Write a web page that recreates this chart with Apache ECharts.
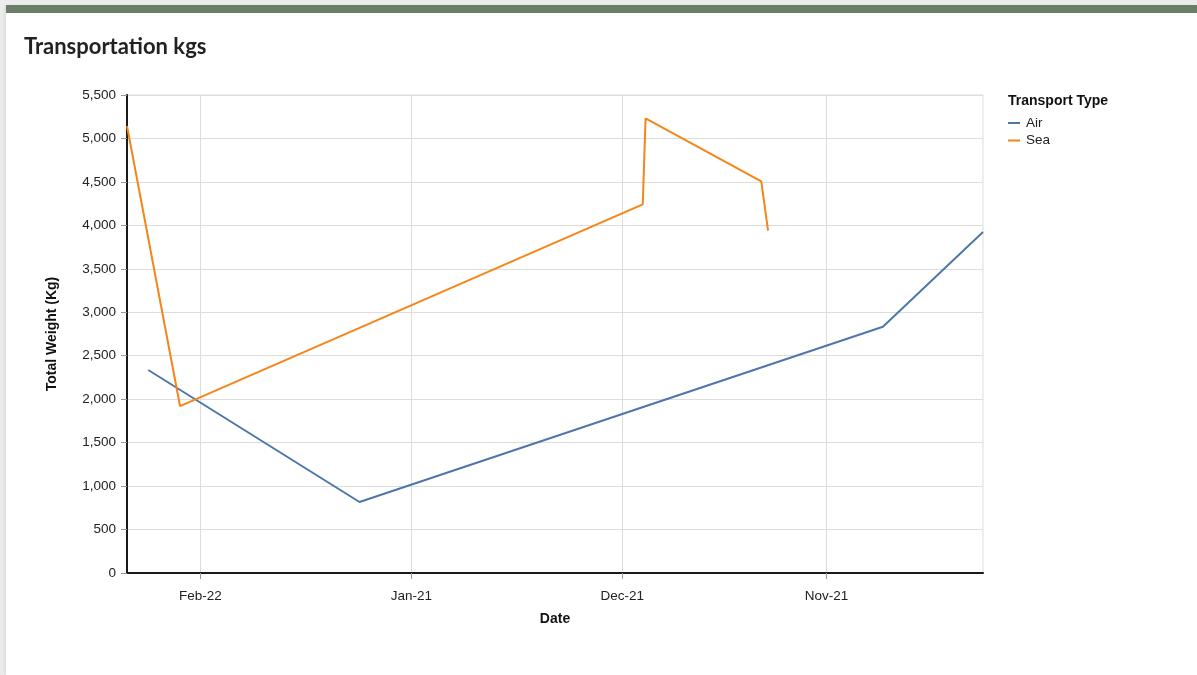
<!DOCTYPE html>
<html>
<head>
<meta charset="utf-8">
<title>Transportation kgs</title>
<script src="https://cdn.jsdelivr.net/npm/echarts@6/dist/echarts.min.js"></script>
<style>
  html, body { margin: 0; padding: 0; }
  body { width: 1197px; height: 675px; background: #ececec; overflow: hidden; position: relative; }
  .card {
    position: absolute; left: 6px; top: 5px; right: 0; bottom: 0;
    background: #fff; border-top: 8px solid #6a7e68;
    box-shadow: -2px 0 3px rgba(0,0,0,0.06);
  }
  #chart { position: absolute; left: 0; top: 0; width: 1197px; height: 675px; }
</style>
</head>
<body>
<div class="card"></div>
<div id="chart"></div>
<script>
// Axis ticks: first day of each month, with their printed labels
const tickDates = ['2021-11-01', '2021-12-01', '2022-01-01', '2022-02-01'];
const tickLabels = ['Nov-21', 'Dec-21', 'Jan-21', 'Feb-22'];

// Air shipments
const airDates = ['2022-02-08 16:00', '2022-01-08 15:00', '2021-10-23 17:00', '2021-10-09 00:00'];
const airKg = [2336, 817, 2834, 3924];

// Sea shipments
const seaDates = ['2022-02-11 19:00', '2022-02-04 00:00', '2021-11-28 00:00', '2021-11-27 14:00', '2021-11-10 14:00', '2021-11-09 14:00'];
const seaKg = [5143, 1921, 4242, 5232, 4507, 3939];

const AIR_COLOR = '#4c78a8';
const SEA_COLOR = '#f58518';
const FONT = '"Liberation Sans", Arial, Helvetica, sans-serif';

// dates become millisecond timestamps on a linear (newest-first) axis
const toMs = d => echarts.time.parse(d).getTime();
const tickValues = tickDates.map(toMs);

function pairs(dates, values) {
  return dates.map((d, i) => [toMs(d), values[i]]);
}

const chart = echarts.init(document.getElementById('chart'), null, { renderer: 'canvas' });

chart.setOption({
  animation: false,
  textStyle: { fontFamily: FONT },
  title: [
    {
      text: 'Transportation kgs',
      left: 24, top: 36, padding: 0,
      textStyle: { fontFamily: 'Lato, "Open Sans", sans-serif', fontWeight: 'bold', fontSize: 22, color: '#222' }
    },
    {
      text: 'Transport Type',
      left: 1008, top: 94, padding: 0,
      textStyle: { fontFamily: FONT, fontWeight: 'bold', fontSize: 14, color: '#111' }
    }
  ],
  legend: {
    orient: 'vertical',
    left: 1008, top: 116,
    icon: 'rect',
    itemWidth: 12, itemHeight: 2,
    itemGap: 3.5,
    padding: 0,
    textStyle: { fontFamily: FONT, fontSize: 13.5, color: '#222', lineHeight: 14, padding: [0, 0, 0, 1] },
    data: ['Air', 'Sea']
  },
  grid: {
    left: 127, right: 214, top: 95, bottom: 102,
    show: true, borderColor: '#dddddd', borderWidth: 1
  },
  xAxis: {
    type: 'value',
    inverse: true,
    scale: true,
    min: 'dataMin', max: 'dataMax',
    name: 'Date',
    nameLocation: 'middle',
    nameGap: 39,
    nameTextStyle: { fontFamily: FONT, fontWeight: 'bold', fontSize: 14, color: '#111' },
    axisLine: { show: true, onZero: false, lineStyle: { color: '#1a1a1a', width: 2 } },
    axisTick: { show: true, length: 6, customValues: tickValues, lineStyle: { color: '#999' } },
    axisLabel: {
      customValues: tickValues,
      margin: 16,
      fontFamily: FONT, fontSize: 13.5, color: '#222',
      formatter: function (value) {
        const i = tickValues.indexOf(value);
        return i >= 0 ? tickLabels[i] : '';
      }
    },
    splitLine: { show: true, lineStyle: { color: '#dddddd', width: 1 } }
  },
  yAxis: {
    type: 'value',
    min: 0, max: 5500, interval: 500,
    name: 'Total Weight (Kg)',
    nameLocation: 'middle',
    nameGap: 68,
    nameTextStyle: { fontFamily: FONT, fontWeight: 'bold', fontSize: 14, color: '#111' },
    axisLine: { show: true, lineStyle: { color: '#1a1a1a', width: 2 } },
    axisTick: { show: true, length: 6, lineStyle: { color: '#999' } },
    axisLabel: {
      margin: 11,
      fontFamily: FONT, fontSize: 13.5, color: '#222',
      formatter: v => v.toLocaleString('en-US')
    },
    splitLine: { show: true, lineStyle: { color: '#dddddd', width: 1 } }
  },
  series: [
    {
      name: 'Air', type: 'line',
      data: pairs(airDates, airKg),
      showSymbol: false, symbol: 'none',
      lineStyle: { color: AIR_COLOR, width: 2 },
      itemStyle: { color: AIR_COLOR }
    },
    {
      name: 'Sea', type: 'line',
      data: pairs(seaDates, seaKg),
      showSymbol: false, symbol: 'none',
      lineStyle: { color: SEA_COLOR, width: 2 },
      itemStyle: { color: SEA_COLOR }
    }
  ]
});
</script>
</body>
</html>
